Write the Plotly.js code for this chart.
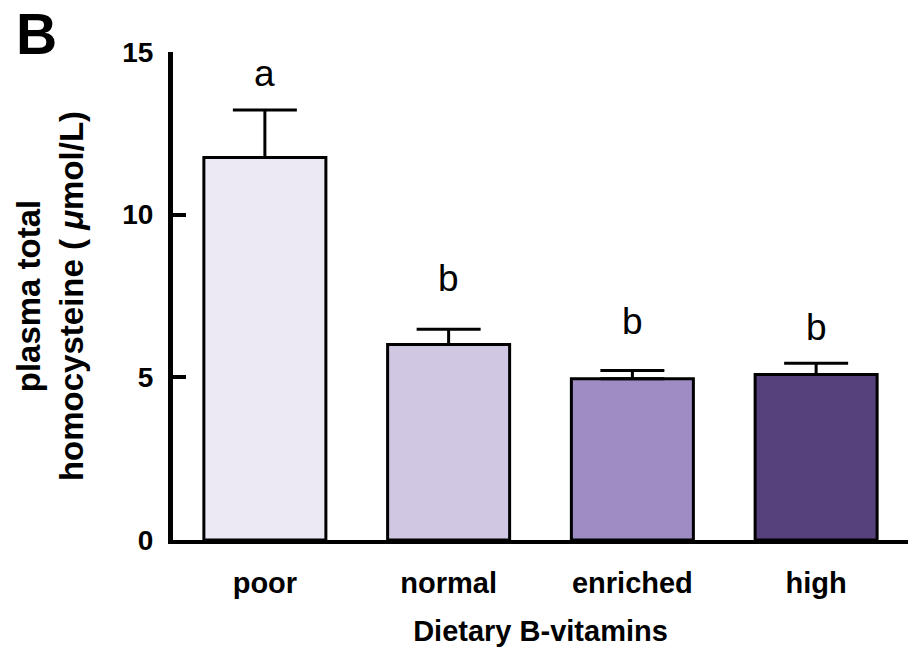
<!DOCTYPE html>
<html>
<head>
<meta charset="utf-8">
<script src="https://cdn.plot.ly/plotly-3.0.1.min.js"></script>
<style>
html,body{margin:0;padding:0;background:#fff;}
#chart{width:908px;height:651px;}
</style>
</head>
<body>
<div id="chart"></div>
<script>
// Data
var categories = ["poor", "normal", "enriched", "high"];
var meanValues = [11.76, 6.01, 4.96, 5.09];
var errorUpper = [1.46, 0.47, 0.25, 0.34];
var errorLower = [0, 0, 0, 0];
var barColors = ["#ECE9F5", "#D0C7E3", "#9D8DC4", "#56417C"];
var groupLetters = ["a", "b", "b", "b"];
var letterY = [14.33, 8.05, 6.71, 6.53];
var yTicks = [0, 5, 10, 15];

var FONT = "Arial, 'Liberation Sans', Helvetica, sans-serif";

var trace = {
  type: "bar",
  x: categories,
  y: meanValues,
  marker: { color: barColors, line: { color: "#000", width: 3 } },
  error_y: {
    type: "data",
    symmetric: false,
    array: errorUpper,
    arrayminus: errorLower,
    color: "#000",
    thickness: 3,
    width: 32
  },
  hoverinfo: "x+y"
};

var annotations = categories.map(function (c, i) {
  return {
    x: c, y: letterY[i], xref: "x", yref: "y",
    text: groupLetters[i], showarrow: false,
    yanchor: "middle",
    font: { family: FONT, size: 37, color: "#000" }
  };
});
// panel label
annotations.push({
  xref: "paper", yref: "paper",
  x: (36 - 173) / 735, y: 1 + (52 - 34) / 488,
  xanchor: "center", yanchor: "middle",
  text: "B", showarrow: false,
  font: { family: FONT, size: 57, color: "#000", weight: "bold" }
});

var layout = {
  width: 908, height: 651,
  margin: { l: 173, r: 0, t: 52, b: 111, pad: 0 },
  paper_bgcolor: "#fff", plot_bgcolor: "#fff",
  showlegend: false,
  bargap: 0.336,
  font: { family: FONT, color: "#000" },
  xaxis: {
    type: "category",
    range: [-0.5, 3.5],
    showline: true, linecolor: "#000", linewidth: 4,
    ticks: "", showgrid: false, zeroline: false,
    tickfont: { family: FONT, size: 29, color: "#000", weight: "bold" },
    ticklabelstandoff: 14,
    title: { text: "Dietary B-vitamins", standoff: 24,
             font: { family: FONT, size: 29, color: "#000", weight: "bold" } },
    automargin: false, fixedrange: true
  },
  yaxis: {
    range: [0, 15],
    tickvals: yTicks,
    ticktext: yTicks.map(String),
    showline: true, linecolor: "#000", linewidth: 5,
    ticks: "inside", ticklen: 13, tickwidth: 4, tickcolor: "#000",
    showgrid: false, zeroline: false,
    tickfont: { family: FONT, size: 28, color: "#000", weight: "bold" },
    ticklabelstandoff: 9,
    title: { text: "plasma total<br>homocysteine ( <i>μ</i>mol/L)", standoff: 30,
             font: { family: FONT, size: 33, color: "#000", weight: "bold" } },
    automargin: false, fixedrange: true
  },
  annotations: annotations
};

Plotly.newPlot("chart", [trace], layout, { displayModeBar: false, staticPlot: true });
</script>
</body>
</html>
